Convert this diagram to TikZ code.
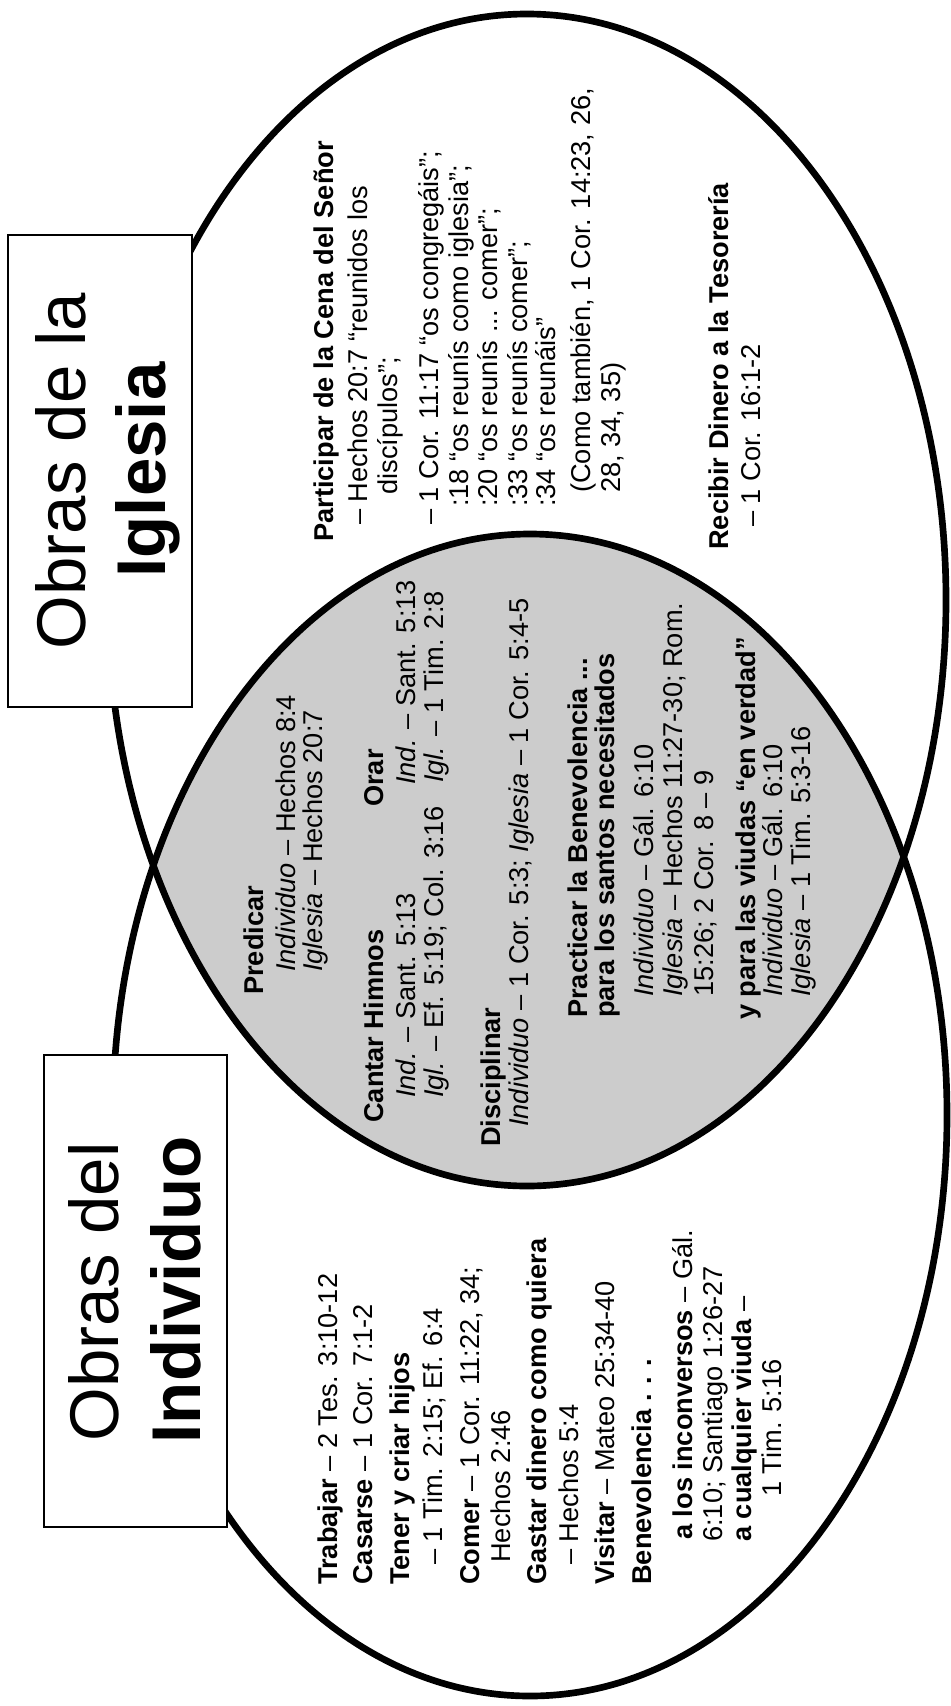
\documentclass[tikz,border=0pt]{standalone}
\usepackage{fontspec}
\setmainfont{Liberation Sans}
\newcommand\bodyfont{\fontsize{20.4pt}{24pt}\selectfont}
\newcommand\titlefont{\fontsize{51.75pt}{62pt}\selectfont}
\begin{document}
\begin{tikzpicture}[x=0.75pt,y=-0.75pt,
  t/.style={rotate=90,anchor=base west,inner sep=0pt,font=\bodyfont},
  ttl/.style={rotate=90,anchor=base,inner sep=0pt,font=\titlefont},
  ttlb/.style={ttl,font=\titlefont\bfseries},
  box/.style={rotate=90,draw=black,line width=1pt,fill=white,inner sep=0pt},
  ring/.style={line width=5pt,draw=black},
  lensfill/.style={fill=black!20}]
\useasboundingbox (0,0) rectangle (950,1706);
\fill[white] (0,0) rectangle (950,1706);
% lens
\begin{scope}
\clip (527,600) ellipse [x radius=419,y radius=586];
\fill[lensfill] (530,1115) ellipse [x radius=417,y radius=581];
\end{scope}
\draw[ring] (527,600) ellipse [x radius=419,y radius=586];
\draw[ring] (530,1115) ellipse [x radius=417,y radius=581];
% title boxes
\node[box,minimum width=354pt,minimum height=138pt] (boxIgl) at (100,471) {};
\node[box,minimum width=354pt,minimum height=137.25pt] (boxInd) at (135.5,1291) {};
\node[ttl] (tIglA) at (85,471) {Obras de la};
\node[ttlb] (tIglB) at (165,470) {Iglesia};
\node[ttl] (tIndA) at (118,1292) {Obras del};
\node[ttlb] (tIndB) at (200,1290) {Individuo};
% individual block
\node[t] (a1) at (337,1585) {\textbf{Trabajar} – 2 Tes. 3:10-12};
\node[t] (a2) at (372,1585) {\textbf{Casarse} – 1 Cor. 7:1-2};
\node[t] (a3) at (409,1585) {\textbf{Tener y criar hijos}};
\node[t] (a4) at (442,1565) {– 1 Tim. 2:15; Ef. 6:4};
\node[t] (a5) at (479,1585) {\textbf{Comer} – 1 Cor. 11:22, 34;};
\node[t] (a6) at (510,1563) {Hechos 2:46};
\node[t] (a7) at (546,1585) {\textbf{Gastar dinero como quiera}};
\node[t] (a8) at (578,1565) {– Hechos 5:4};
\node[t] (a9) at (614,1585) {\textbf{Visitar} – Mateo 25:34-40};
\node[t] (a10) at (651,1585) {\textbf{Benevolencia . . .}};
\node[t] (a11) at (692,1540) {\textbf{a los inconversos} – Gál.};
\node[t] (a12) at (722,1542) {6:10; Santiago 1:26-27};
\node[t] (a13) at (751,1542) {\textbf{a cualquier viuda} –};
\node[t] (a14) at (781,1497) {1 Tim. 5:16};
% lens block
\node[t] (b1) at (263,995) {\textbf{Predicar}};
\node[t] (b2) at (295,972) {\textit{Individuo} – Hechos 8:4};
\node[t] (b3) at (322,972) {\textit{Iglesia} – Hechos 20:7};
\node[t] (b4) at (383,1123) {\textbf{Cantar Himnos}};
\node[t] (b5) at (415,1098) {\textit{Ind.} – Sant. 5:13};
\node[t] (b6) at (443,1098) {\textit{Igl.} – Ef. 5:19; Col. 3:16};
\node[t] (b7) at (383,807) {\textbf{Orar}};
\node[t] (b8) at (415,785) {\textit{Ind.} – Sant. 5:13};
\node[t] (b9) at (443,783) {\textit{Igl.} – 1 Tim. 2:8};
\node[t] (b10) at (500,1147) {\textbf{Disciplinar}};
\node[t] (b11) at (528,1127) {\textit{Individuo} – 1 Cor. 5:3; \textit{Iglesia} – 1 Cor. 5:4-5};
\node[t] (b12) at (587,1018) {\textbf{Practicar la Benevolencia ...}};
\node[t] (b13) at (614,1018) {\textbf{para los santos necesitados}};
\node[t] (b14) at (653,997) {\textit{Individuo} – Gál. 6:10};
\node[t] (b15) at (682,997) {\textit{Iglesia} – Hechos 11:27-30; Rom.};
\node[t] (b16) at (713,997) {15:26; 2 Cor. 8 – 9};
\node[t] (b17) at (755,1020) {\textbf{y para las viudas “en verdad”}};
\node[t] (b18) at (782,997) {\textit{Individuo} – Gál. 6:10};
\node[t] (b19) at (810,997) {\textit{Iglesia} – 1 Tim. 5:3-16};
% church block
\node[t] (c1) at (333,542) {\textbf{Participar de la Cena del Señor}};
\node[t] (c2) at (367,525) {– Hechos 20:7 “reunidos los};
\node[t] (c3) at (397,495) {discípulos”;};
\node[t] (c4) at (438,525) {– 1 Cor. 11:17 “os congregáis”;};
\node[t] (c5) at (468,507) {:18 “os reunís como iglesia”;};
\node[t] (c6) at (497,507) {:20 “os reunís ... comer”;};
\node[t] (c7) at (527,507) {:33 “os reunís comer”;};
\node[t] (c8) at (555,507) {:34 “os reunáis”};
\node[t] (c9) at (590,493) {(Como también, 1 Cor. 14:23, 26,};
\node[t] (c10) at (620,493) {28, 34, 35)};
\node[t] (c11) at (728,550) {\textbf{Recibir Dinero a la Tesorería}};
\node[t] (c12) at (760,527) {– 1 Cor. 16:1-2};
\end{tikzpicture}
\end{document}
